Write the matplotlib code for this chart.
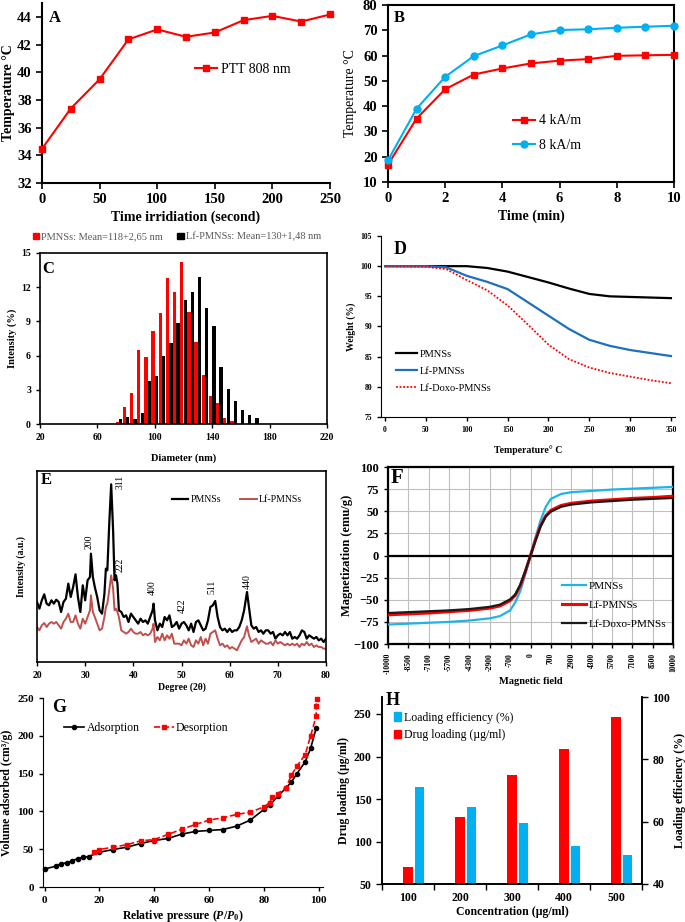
import numpy as np
import matplotlib
matplotlib.use("Agg")
import matplotlib.pyplot as plt
from matplotlib.lines import Line2D
from matplotlib.patches import Patch

plt.rcParams["font.family"] = ["Liberation Serif", "DejaVu Serif"]
plt.rcParams["mathtext.fontset"] = "custom"
plt.rcParams["mathtext.rm"] = "Liberation Serif:bold"
plt.rcParams["mathtext.it"] = "Liberation Serif:italic:bold"
plt.rcParams["mathtext.bf"] = "Liberation Serif:bold"

W, H = 685, 922
RED = "#FF0000"
CYAN = "#00B0F0"

# ---- A: photothermal heating
ptt_time = [0, 25, 50, 75, 100, 125, 150, 175, 200, 225, 250]
ptt_temp = [34.47, 37.38, 39.49, 42.37, 43.09, 42.56, 42.87, 43.76, 44.07, 43.66, 44.17]

# ---- B: magnetic hyperthermia
mh_time = [0, 1, 2, 3, 4, 5, 6, 7, 8, 9, 10]
mh_4ka = [16.9, 35.1, 46.7, 52.5, 54.9, 56.9, 58.0, 58.6, 59.9, 60.1, 60.3]
mh_8ka = [18.6, 39.0, 51.6, 59.8, 64.0, 68.4, 70.1, 70.4, 71.0, 71.4, 71.8]

# ---- C: size distribution
dls_diam = [75, 80, 85, 90, 95, 100, 105, 110, 115, 120,
            125, 130, 135, 140, 145, 150, 155, 160, 165, 170]
dls_pmns = [0.15, 1.5, 2.7, 6.5, 5.9, 8.2, 9.7, 12.8, 11.6, 14.2,
            9.8, 7.2, 4.3, 2.5, 1.8, 0.5, 0.3, 0, 0, 0]
dls_lf = [0.4, 0.6, 0.4, 1.0, 3.8, 4.2, 6.0, 7.1, 8.9, 10.9,
          11.6, 12.9, 10.2, 8.6, 5.0, 3.1, 2.0, 1.2, 0.8, 0.5]

# ---- D: TGA
tga_temp = [0, 50, 75, 100, 125, 150, 175, 200, 225, 250, 275, 300, 325, 350]
tga_pmns = [100, 100, 100, 100, 99.7, 99.1, 98.2, 97.3, 96.3, 95.4, 95.0, 94.9, 94.8, 94.7]
tga_lf = [100, 100, 99.8, 98.4, 97.4, 96.2, 94.0, 91.8, 89.6, 87.8, 86.8, 86.1, 85.6, 85.1]
tga_lfdoxo = [100, 99.9, 99.5, 97.7, 96.0, 93.5, 90.3, 87.0, 84.6, 83.2, 82.3, 81.7, 81.1, 80.6]

# ---- E: XRD
xrd_angle = [20, 20.5, 21, 21.5, 22, 22.5, 23, 23.5, 24, 24.5,
             25, 25.5, 26, 26.5, 27, 27.5, 28, 28.5, 29, 29.5,
             30, 30.5, 31, 31.2, 31.6, 32, 32.5, 33, 33.5, 34,
             34.3, 34.6, 35, 35.4, 35.8, 36.1, 36.4, 36.7, 37, 37.5,
             38, 38.5, 39, 39.5, 40, 40.5, 41, 41.5, 42, 42.5,
             43, 43.5, 44, 44.2, 44.5, 45, 45.5, 46, 46.5, 47,
             47.5, 48, 48.5, 49, 49.5, 50, 50.5, 51, 51.5, 52,
             52.5, 53, 53.5, 54, 54.5, 55, 55.5, 56, 56.5, 57,
             57.5, 58, 58.5, 59, 59.5, 60, 60.5, 61, 61.5, 62,
             62.5, 63, 63.6, 64, 64.5, 65, 65.5, 66, 66.5, 67,
             67.5, 68, 68.5, 69, 69.5, 70, 70.5, 71, 71.5, 72,
             72.5, 73, 73.5, 74, 74.5, 75, 75.5, 76, 76.5, 77,
             77.5, 78, 78.5, 79, 79.5, 80]
xrd_pmns = [185, 165, 190, 208, 180, 175, 190, 180, 192, 185,
            155, 185, 195, 240, 200, 230, 268, 200, 155, 235,
            190, 250, 260, 330, 260, 230, 200, 160, 150, 210,
            285, 280, 420, 538, 400, 250, 265, 240, 160, 155,
            140, 145, 125, 150, 140, 130, 120, 135, 125, 130,
            120, 140, 160, 180, 130, 100, 120, 110, 140, 130,
            145, 110, 115, 125, 105, 120, 125, 115, 100, 120,
            95, 125, 130, 115, 100, 105, 130, 170, 175, 188,
            140, 110, 100, 105, 95, 105, 95, 100, 100, 110,
            130, 160, 215, 170, 115, 105, 110, 95, 100, 90,
            100, 100, 90, 95, 75, 85, 90, 85, 95, 85,
            95, 75, 80, 75, 85, 100, 95, 75, 85, 80,
            75, 80, 70, 75, 65, 75]
xrd_lf = [110, 100, 115, 122, 110, 120, 125, 120, 125, 115,
          105, 125, 135, 150, 125, 125, 145, 120, 105, 135,
          120, 140, 160, 205, 155, 140, 120, 100, 105, 140,
          170, 180, 220, 265, 225, 160, 165, 155, 140, 100,
          95, 90, 95, 105, 95, 90, 90, 95, 85, 90,
          85, 90, 105, 120, 65, 80, 70, 90, 70, 85,
          75, 90, 60, 60, 60, 55, 70, 60, 75, 55,
          50, 70, 60, 80, 55, 75, 60, 90, 95, 100,
          75, 55, 60, 50, 55, 45, 50, 45, 40, 55,
          70, 80, 112, 85, 65, 70, 75, 60, 70, 65,
          60, 60, 65, 55, 70, 60, 65, 60, 55, 60,
          55, 60, 55, 60, 50, 60, 55, 65, 55, 60,
          50, 55, 50, 50, 45, 45]
peak_hkl = ["200", "311", "222", "400", "422", "511", "440"]
peak_angle = [30.9, 37.2, 37.2, 43.9, 50.2, 56.3, 63.6]
peak_height = [365, 545, 295, 228, 175, 230, 245]

# ---- F: VSM (category axis)
field_labels = ["-10000", "-8500", "-7100", "-5700", "-4300", "-2900", "-700", "0",
                "700", "2900", "4300", "5700", "7100", "8500", "10000"]
vsm_pos = [0, 1, 2, 3, 4, 5, 5.5, 6, 6.25, 6.5, 6.75, 7, 7.25, 7.5, 7.75,
           8, 8.5, 9, 10, 11, 12, 13, 14]
vsm_pmns = [-78, -77, -76, -75, -73.5, -71, -68.5, -62, -53, -40, -21, 0, 21, 40, 55,
            64, 69.5, 71.5, 73, 74.5, 75.5, 76.5, 77.5]
vsm_lf = [-67, -66, -65, -63.5, -62, -59.5, -57, -51, -45, -34, -18, 0, 18, 34, 45,
          51, 56.5, 59, 61.5, 63, 64.5, 65.5, 67]
vsm_lfdoxo = [-65, -64, -63, -62, -60.5, -58, -55.5, -49.5, -44, -33, -17, 0, 17, 33, 44,
              49.5, 55, 57.5, 60, 61.5, 63, 64, 65]

# ---- G: BET isotherm
ads_p = [0, 4, 6, 8, 10, 12, 14, 16, 20, 25, 30, 35, 40, 45, 50, 55, 60, 65,
         70, 75, 80, 82, 85, 88, 90, 92, 95, 97, 99]
ads_v = [23.9, 27.4, 31.0, 31.9, 34.5, 37.6, 39.4, 40.3, 46.0, 49.6, 52.7, 57.5,
         61.5, 64.2, 70.0, 73.5, 74.8, 76.0, 80.5, 88.5, 102.7, 108, 120, 131,
         139, 150, 165.5, 183.6, 210]
des_p = [18, 20, 25, 30, 35, 40, 45, 50, 55, 60, 65, 70, 75, 80, 82, 83, 85, 88,
         90, 92, 95, 97, 99, 99.1, 99.2]
des_v = [46, 49.6, 52.7, 56, 61, 62.8, 69.5, 76.5, 82.7, 88.5, 91.6, 96, 99, 106,
         111.5, 119, 123.5, 131.4, 148, 160, 175, 200, 225.7, 240, 248.7]

# ---- H: drug loading
conc = ["100", "200", "300", "400", "500"]
drug_loading = [70.4, 129.4, 178.5, 208.7, 246]
loading_eff = [71, 64.75, 59.5, 52.3, 49.2]


def px_axes(fig, left, top, right, bottom):
    return fig.add_axes([left / W, 1 - bottom / H,
                         (right - left) / W, (bottom - top) / H])


def bold_ticks(ax, size):
    ax.tick_params(labelsize=size)
    for lab in ax.get_xticklabels() + ax.get_yticklabels():
        lab.set_fontweight("bold")


def letter(fig, x, y, s, size):
    fig.text(x / W, 1 - y / H, s, fontsize=size, fontweight="bold",
             ha="left", va="top")


def open_box(ax):
    ax.spines["top"].set_visible(False)
    ax.spines["right"].set_visible(False)


fig = plt.figure(figsize=(W / 100, H / 100), dpi=100)

# A
ax = px_axes(fig, 42, 3, 330, 183)
ax.plot(ptt_time, ptt_temp, color=RED, marker="s", ms=5, lw=1.5,
        label="PTT 808 nm", clip_on=False, zorder=3)
ax.set_xlim(0, 250)
ax.set_ylim(32, 45)
ax.set_xticks(range(0, 251, 50))
ax.set_yticks(range(32, 45, 2))
open_box(ax)
ax.spines["left"].set_linewidth(1.5)
ax.spines["bottom"].set_linewidth(1.5)
ax.tick_params(width=1.2, length=4)
bold_ticks(ax, 10.5)
ax.set_xlabel("Time irridiation (second)", fontsize=10, fontweight="bold", labelpad=3)
ax.set_ylabel("Temperature °C", fontsize=10, fontweight="bold", labelpad=1)
ax.legend(loc="center left", bbox_to_anchor=(0.53, 0.63), frameon=False,
          fontsize=10, handlelength=1.6, handletextpad=0.3, borderpad=0, borderaxespad=0)
letter(fig, 49, 10, "A", 12)

# B
ax = px_axes(fig, 388, 5, 674, 182)
ax.plot(mh_time, mh_4ka, color=RED, marker="s", ms=5, lw=1.5, label="4 kA/m",
        clip_on=False, zorder=3)
ax.plot(mh_time, mh_8ka, color=CYAN, marker="o", ms=5, lw=1.5, label="8 kA/m",
        clip_on=False, zorder=3)
ax.set_xlim(0, 10)
ax.set_ylim(10, 80)
ax.set_xticks(range(0, 11, 2))
ax.set_yticks(range(10, 81, 10))
for sp in ax.spines.values():
    sp.set_linewidth(1.5)
ax.tick_params(width=1.2, length=4)
bold_ticks(ax, 10.5)
ax.set_xlabel("Time (min)", fontsize=10, fontweight="bold", labelpad=3)
ax.set_ylabel("Temperature °C", fontsize=10, labelpad=4)
ax.legend(loc="center left", bbox_to_anchor=(0.437, 0.277), frameon=False,
          fontsize=10, handlelength=1.6, handletextpad=0.3, labelspacing=0.8,
          borderpad=0, borderaxespad=0)
letter(fig, 394, 10, "B", 12)

# C
ax = px_axes(fig, 40, 253, 327, 424)
d = np.array(dls_diam, dtype=float)
ax.bar(d - 1.2, dls_pmns, width=2.3, color=RED, zorder=2)
ax.bar(d + 1.2, dls_lf, width=2.3, color="black", zorder=2)
ax.set_xlim(20, 220)
ax.set_ylim(0, 15)
ax.set_xticks(range(20, 221, 40))
ax.set_yticks(range(0, 16, 3))
for sp in ax.spines.values():
    sp.set_linewidth(1.2)
ax.tick_params(width=1, length=3)
bold_ticks(ax, 7)
ax.set_xlabel("Diameter (nm)", fontsize=7.5, fontweight="bold", labelpad=8)
ax.set_ylabel("Intensity (%)", fontsize=7.5, fontweight="bold", labelpad=3)
handles = [Patch(color=RED, label="PMNSs: Mean=118+2,65 nm"),
           Patch(color="black", label="Lf-PMNSs: Mean=130+1,48 nm")]
leg = ax.legend(handles=handles, loc="center left", bbox_to_anchor=(-0.025, 1.094),
                ncol=2, frameon=False, fontsize=7.5, handlelength=0.6, handleheight=0.6,
                handletextpad=0.2, columnspacing=1.4, borderpad=0, borderaxespad=0)
for t in leg.get_texts():
    t.set_color("#595959")
letter(fig, 42, 261, "C", 12)

# D
ax = px_axes(fig, 381, 236, 675, 417)
ax.plot(tga_temp, tga_pmns, color="black", lw=1.6, label="PMNSs")
ax.plot(tga_temp, tga_lf, color="#1F6FC0", lw=1.6, label="Lf-PMNSs")
ax.plot(tga_temp, tga_lfdoxo, color=RED, lw=1.3, ls=(0, (1, 1)), label="Lf-Doxo-PMNSs")
ax.set_xlim(-5, 355)
ax.set_ylim(75, 105)
ax.set_xticks(range(0, 351, 50))
ax.set_yticks(range(75, 106, 5))
open_box(ax)
ax.tick_params(width=1, length=3)
bold_ticks(ax, 5.5)
ax.set_xlabel("Temperature° C", fontsize=7, fontweight="bold", labelpad=8)
ax.set_ylabel("Weight (%)", fontsize=7, fontweight="bold", labelpad=3)
ax.legend(loc="center left", bbox_to_anchor=(0.05, 0.254), frameon=False,
          fontsize=7.5, handlelength=2.0, handletextpad=0.3, labelspacing=0.75,
          borderpad=0, borderaxespad=0)
letter(fig, 394, 241, "D", 13)

# E
ax = px_axes(fig, 37, 471, 326, 662)
ax.plot(xrd_angle, xrd_pmns, color="black", lw=1.6, label="PMNSs")
ax.plot(xrd_angle, xrd_lf, color="#C0504D", lw=1.4, label="Lf-PMNSs")
for s, x, y in zip(peak_hkl, peak_angle, peak_height):
    ax.text(x, y, s, rotation=90, ha="center", va="center", fontsize=7)
ax.set_xlim(20, 80)
ax.set_ylim(5, 578)
ax.set_xticks(range(20, 81, 10))
ax.set_yticks([])
for sp in ax.spines.values():
    sp.set_linewidth(1.2)
ax.tick_params(width=1, length=3)
bold_ticks(ax, 7)
ax.set_xlabel("Degree (2θ)", fontsize=7, fontweight="bold", labelpad=2)
ax.set_ylabel("Intensity (a.u.)", fontsize=7, fontweight="bold", labelpad=8)
ax.legend(loc="center left", bbox_to_anchor=(0.467, 0.85), ncol=2, frameon=False,
          fontsize=7, handlelength=1.7, handletextpad=0.2, columnspacing=2.0,
          borderpad=0, borderaxespad=0)
letter(fig, 41, 472, "E", 12)

# F
ax = px_axes(fig, 388, 467, 673, 644)
ax.plot(vsm_pos, vsm_pmns, color="#1FB3EA", lw=1.6, label="PMNSs", zorder=3)
ax.plot(vsm_pos, vsm_lf, color=RED, lw=2.2, label="Lf-PMNSs", zorder=3)
ax.plot(vsm_pos, vsm_lfdoxo, color="#1a1a1a", lw=1.6, label="Lf-Doxo-PMNSs", zorder=3)
ax.axhline(0, color="black", lw=1.6, zorder=2)
ax.set_xlim(0, 14)
ax.set_ylim(-100, 100)
ax.set_xticks(range(len(field_labels)))
ax.set_xticklabels(field_labels, rotation=90)
ax.set_yticks(range(-100, 101, 25))
ax.grid(True, color="#BFBFBF", lw=0.8)
ax.set_axisbelow(True)
for sp in ax.spines.values():
    sp.set_linewidth(1.6)
ax.tick_params(width=1, length=3)
bold_ticks(ax, 9)
ax.tick_params(axis="x", labelsize=5.5)
ax.set_xlabel("Magnetic field", fontsize=7.5, fontweight="bold", labelpad=2)
ax.set_ylabel("Magnetization (emu/g)", fontsize=9, fontweight="bold", labelpad=0)
ax.legend(loc="center left", bbox_to_anchor=(0.61, 0.22), frameon=False,
          fontsize=8, handlelength=2.2, handletextpad=0.2, labelspacing=0.85,
          borderpad=0, borderaxespad=0)
letter(fig, 391, 468, "F", 15)

# G
ax = px_axes(fig, 43, 698, 323, 887)
ax.plot(ads_p, ads_v, color="black", marker="o", ms=3, lw=1.2, label="Adsorption",
        clip_on=False)
ax.plot(des_p, des_v, color=RED, marker="s", ms=3, lw=1.2, ls="--", label="Desorption",
        clip_on=False)
ax.set_xlim(-0.6, 101.5)
ax.set_ylim(0, 250)
ax.set_xticks(range(0, 101, 20))
ax.set_yticks(range(0, 251, 50))
open_box(ax)
ax.tick_params(width=1, length=3)
bold_ticks(ax, 8)
ax.set_xlabel("Relative pressure ($P/P_0$)", fontsize=8.5, fontweight="bold", labelpad=2)
ax.set_ylabel("Volume adsorbed (cm³/g)", fontsize=8.5, fontweight="bold", labelpad=3)
ax.legend(loc="center left", bbox_to_anchor=(0.075, 0.84), ncol=2, frameon=False,
          fontsize=8.5, handlelength=1.7, handletextpad=0.2, columnspacing=1.2,
          borderpad=0, borderaxespad=0)
letter(fig, 52, 699, "G", 13)

# H
ax = px_axes(fig, 382, 697, 642, 884)
ax2 = ax.twinx()
idx = np.arange(len(conc))
ax.bar(idx, drug_loading, width=0.18, color=RED, zorder=2)
ax2.bar(idx + 0.22, loading_eff, width=0.19, color=CYAN, zorder=2)
ax.set_xlim(-0.5, len(conc) - 0.5)
ax.set_ylim(50, 270)
ax2.set_ylim(40, 100)
ax.set_yticks(range(50, 251, 50))
ax2.set_yticks(range(40, 101, 20))
ax.set_xticks(idx)
ax.set_xticklabels(conc)
ax.set_xticks(np.arange(-0.5, len(conc)), minor=True)
ax.tick_params(axis="x", which="major", length=0, pad=6)
ax.tick_params(axis="x", which="minor", length=4, width=1)
for a in (ax, ax2):
    a.spines["top"].set_visible(False)
    for sp in a.spines.values():
        sp.set_linewidth(1.2)
ax.tick_params(axis="y", width=1, length=4)
ax2.tick_params(axis="y", width=1, length=4)
bold_ticks(ax, 8.5)
bold_ticks(ax2, 8.5)
ax.set_xlabel("Concentration (µg/ml)", fontsize=8.5, fontweight="bold", labelpad=1)
ax.set_ylabel("Drug loading (µg/ml)", fontsize=8.5, fontweight="bold", labelpad=3)
ax2.set_ylabel("Loading efficiency (%)", fontsize=8.5, fontweight="bold", labelpad=3)
handles = [Patch(color=CYAN, label="Loading efficiency (%)"),
           Patch(color=RED, label="Drug loading (µg/ml)")]
ax.legend(handles=handles, loc="center left", bbox_to_anchor=(0.045, 0.842),
          frameon=False, fontsize=8.5, handlelength=0.6, handleheight=0.7,
          handletextpad=0.3, labelspacing=0.5, borderpad=0, borderaxespad=0)
letter(fig, 386, 692, "H", 13)

fig.savefig("out.png", dpi=100, facecolor="white")
